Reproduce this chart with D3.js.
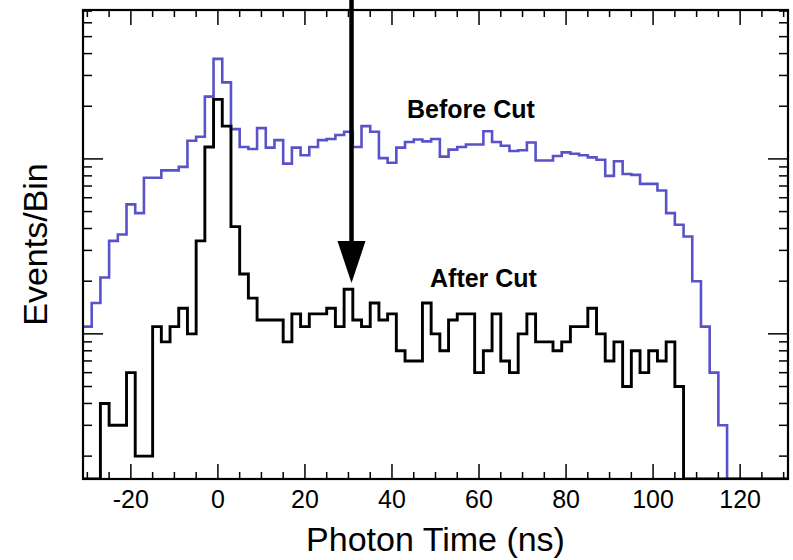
<!DOCTYPE html>
<html>
<head>
<meta charset="utf-8">
<script src="https://cdn.jsdelivr.net/npm/d3@7/dist/d3.min.js"></script>
<style>
  html, body { margin: 0; padding: 0; background: #fff; }
  svg { display: block; }
  text { font-family: "Liberation Sans", Arial, Helvetica, sans-serif; fill: #000; }
</style>
</head>
<body>
<svg id="chart" width="793" height="560"></svg>
<script>
// ---- Data (bin centres in ns, 2 ns wide bins) ----
const binCenters = [
  -30,-28,-26,-24,-22,-20,-18,-16,-14,-12,
  -10,-8,-6,-4,-2,0,2,4,6,8,
  10,12,14,16,18,20,22,24,26,28,
  30,32,34,36,38,40,42,44,46,48,
  50,52,54,56,58,60,62,64,66,68,
  70,72,74,76,78,80,82,84,86,88,
  90,92,94,96,98,100,102,104,106,108,
  110,112,114,116,118,120,122,124,126,128,130
];
const binWidth = 2;

const beforeCut = [
  11,15,21,34,37,55,49,78,78,86,
  86,90,127,134,227,373,274,148,117,114,
  150,116,128,94,116,105,117,128,130,137,
  143,117,154,143,101,95,116,125,129,126,
  130,103,113,117,121,121,144,125,119,111,
  112,124,98,98,104,109,107,105,102,99,
  80,97,82,81,72,72,66,49,42,36,
  20,11,6,3,0,0,0,0,0,0,0
];

const afterCut = [
  0,0,4,3,3,6,2,2,11,9,
  11,14,10,34,117,219,154,41,22,16,
  12,12,12,9,13,11,13,13,14,11,
  18,12,11,15,12,13,8,7,7,15,
  10,8,12,13,13,6,8,13,7,6,
  10,13,9,9,8,9,11,11,14,10,
  7,9,5,8,6,8,7,9,5,0,
  0,0,0,0,0,0,0,0,0,0,0
];

const xMajorTicks = [-20, 0, 20, 40, 60, 80, 100, 120];
const xMinorTicks = [-30,-25,-15,-10,-5,5,10,15,25,30,35,45,50,55,65,70,75,85,90,95,105,110,115,125,130];
const yMajorTicks = [10, 100];
const yMinorTicks = [2,3,4,5,6,7,8,9,20,30,40,50,60,70,80,90,200,300,400,500,600,700];

const xDomain = [-31, 131];
const yDomain = [1.48, 710];

const arrowTime = 30.7;      // ns, where the arrow points
const arrowTipValue = 19.5;  // events/bin at arrow tip

// ---- Layout ----
const svg = d3.select("#chart");
const L = 83, R = 788, T = 10, B = 479;

const x = d3.scaleLinear().domain(xDomain).range([L, R]);
const y = d3.scaleLog().domain(yDomain).range([B, T]).clamp(true);

function histPoints(values) {
  const pts = binCenters.map((c, i) => [c - binWidth / 2, values[i]]);
  const last = binCenters.length - 1;
  pts.push([binCenters[last] + binWidth / 2, values[last]]);
  return pts;
}

const line = d3.line()
  .x(d => x(d[0]))
  .y(d => d[1] > 0 ? y(d[1]) : B)
  .curve(d3.curveStepAfter);

svg.append("defs").append("clipPath").attr("id", "plotClip")
  .append("rect").attr("x", L).attr("y", T).attr("width", R - L).attr("height", B - T);

const plot = svg.append("g").attr("clip-path", "url(#plotClip)");

plot.append("path")
  .attr("d", line(histPoints(beforeCut)))
  .attr("fill", "none")
  .attr("stroke", "#5a52c8")
  .attr("stroke-width", 2.6)
  .attr("stroke-linejoin", "miter");

plot.append("path")
  .attr("d", line(histPoints(afterCut)))
  .attr("fill", "none")
  .attr("stroke", "#000")
  .attr("stroke-width", 2.9)
  .attr("stroke-linejoin", "miter");

// ---- Axes (ticks on all four sides, pointing inward) ----
const axG = svg.append("g").attr("stroke", "#000");

function addXTicks(values, len) {
  values.forEach(v => {
    axG.append("line").attr("x1", x(v)).attr("x2", x(v)).attr("y1", B).attr("y2", B - len).attr("stroke-width", 1.5);
    axG.append("line").attr("x1", x(v)).attr("x2", x(v)).attr("y1", T).attr("y2", T + len).attr("stroke-width", 1.5);
  });
}
function addYTicks(values, len) {
  values.forEach(v => {
    axG.append("line").attr("y1", y(v)).attr("y2", y(v)).attr("x1", L).attr("x2", L + len).attr("stroke-width", 1.5);
    axG.append("line").attr("y1", y(v)).attr("y2", y(v)).attr("x1", R).attr("x2", R - len).attr("stroke-width", 1.5);
  });
}
addXTicks(xMajorTicks, 15);
addXTicks(xMinorTicks, 7);
addYTicks(yMajorTicks, 20);
addYTicks(yMinorTicks, 9);

svg.append("rect")
  .attr("x", L).attr("y", T).attr("width", R - L).attr("height", B - T)
  .attr("fill", "none").attr("stroke", "#000").attr("stroke-width", 2.2);

// bottom tick labels
svg.append("g").selectAll("text").data(xMajorTicks).join("text")
  .attr("x", d => x(d))
  .attr("y", 508)
  .attr("text-anchor", "middle")
  .attr("font-size", 25)
  .text(d => d);

// axis titles
svg.append("text")
  .attr("x", (L + R) / 2)
  .attr("y", 551)
  .attr("text-anchor", "middle")
  .attr("font-size", 34)
  .text("Photon Time (ns)");

svg.append("text")
  .attr("transform", `translate(47, ${(T + B) / 2}) rotate(-90)`)
  .attr("text-anchor", "middle")
  .attr("font-size", 34)
  .text("Events/Bin");

// annotations
svg.append("text")
  .attr("x", 407).attr("y", 118)
  .attr("font-size", 25).attr("font-weight", "bold")
  .text("Before Cut");

svg.append("text")
  .attr("x", 430).attr("y", 287)
  .attr("font-size", 25).attr("font-weight", "bold")
  .text("After Cut");

// arrow
const ax = x(arrowTime);
const tipY = y(arrowTipValue);
const headLen = 42, headW = 28;
svg.append("line")
  .attr("x1", ax).attr("x2", ax)
  .attr("y1", 0).attr("y2", tipY - headLen + 2)
  .attr("stroke", "#000").attr("stroke-width", 4.5);
svg.append("path")
  .attr("d", `M${ax - headW / 2},${tipY - headLen} L${ax + headW / 2},${tipY - headLen} L${ax},${tipY} Z`)
  .attr("fill", "#000");
</script>
</body>
</html>
